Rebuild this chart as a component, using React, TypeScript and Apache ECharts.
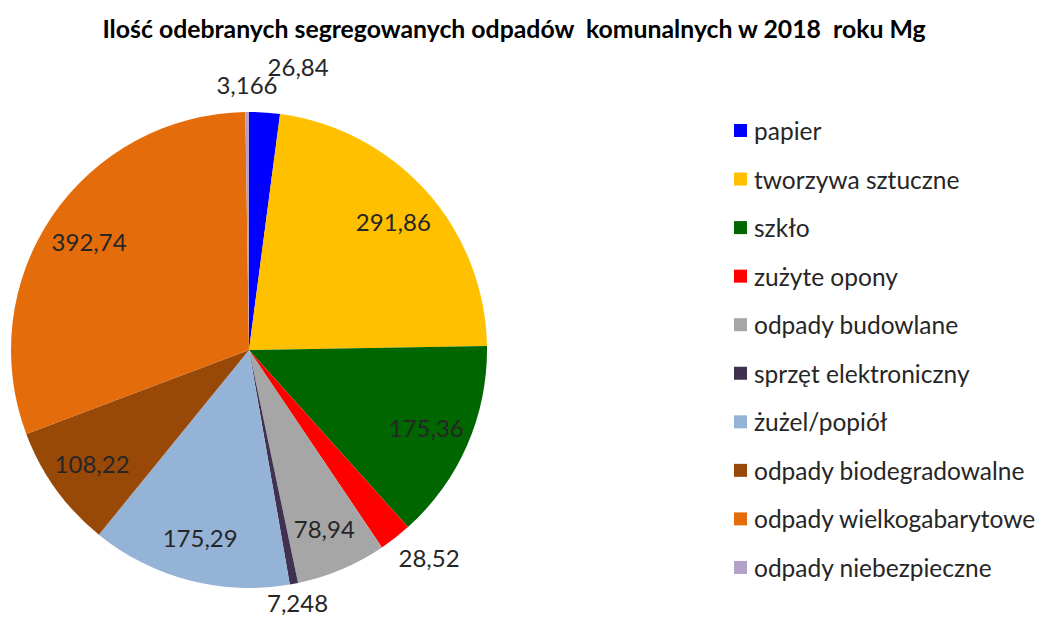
import React, { useEffect, useRef } from "react";
import * as echarts from "echarts";

const categories = [
  "papier",
  "tworzywa sztuczne",
  "szkło",
  "zużyte opony",
  "odpady budowlane",
  "sprzęt elektroniczny",
  "żużel/popiół",
  "odpady biodegradowalne",
  "odpady wielkogabarytowe",
  "odpady niebezpieczne",
];
const values = [26.84, 291.86, 175.36, 28.52, 78.94, 7.248, 175.29, 108.22, 392.74, 3.166];
const colors = [
  "#0000FF",
  "#FFC000",
  "#006600",
  "#FF0000",
  "#A6A6A6",
  "#403151",
  "#95B3D7",
  "#984807",
  "#E46C0A",
  "#B3A2C7",
];
const titleText = "Ilość odebranych segregowanych odpadów  komunalnych w 2018  roku Mg";

// label styling: outside label distance (px beyond the rim) per slice index; others inside
const outsideLabelLen: Record<number, number> = { 0: 46, 3: 32, 5: 19, 9: 28 };
const centeredOutside = [3, 5, 9];
const labelNudge: Record<number, { dx: number; dy: number }> = { 3: { dx: 14, dy: -5 } };

const FONT = "Lato, 'Noto Sans', sans-serif";
const fmt = (v: number) => String(v).replace(".", ",");

export default function App() {
  const ref = useRef<HTMLDivElement>(null);
  useEffect(() => {
    document.body.style.margin = "0";
    if (!ref.current) return;
    const chart = echarts.init(ref.current, null, { renderer: "svg" });
    const R = 238;
    const center = [249, 350];
    const mainData = categories.map((name, i) => ({
      name,
      value: values[i],
      itemStyle: { color: colors[i] },
    }));
    const labelData = categories.map((name, i) => {
      const out = outsideLabelLen[i];
      return {
        name,
        value: values[i],
        label:
          out != null
            ? { position: "outside" as const, distanceToLabelLine: 0 }
            : { position: "inside" as const },
        labelLine: { show: false, length: out != null ? out : 10, length2: 0 },
      };
    });
    chart.setOption({
      animation: false,
      backgroundColor: "#ffffff",
      title: {
        text: titleText,
        left: 514,
        textAlign: "center",
        top: 16,
        padding: 0,
        textStyle: {
          fontFamily: FONT,
          fontSize: 24.8,
          lineHeight: 24,
          fontWeight: "bold",
          color: "#000000",
        },
      },
      legend: {
        orient: "vertical",
        left: 734,
        top: 118,
        padding: 0,
        itemWidth: 13,
        itemHeight: 13,
        itemGap: 23.55,
        icon: "rect",
        data: categories,
        textStyle: {
          fontFamily: FONT,
          fontSize: 24.5,
          lineHeight: 24,
          color: "#262626",
          padding: [0, 0, 0, 2],
        },
      },
      series: [
        {
          type: "pie",
          center,
          radius: [0, R],
          startAngle: 90,
          clockwise: true,
          label: { show: false },
          labelLine: { show: false },
          itemStyle: { borderWidth: 0 },
          emphasis: { disabled: true },
          data: mainData,
        },
        {
          type: "pie",
          center,
          radius: [R * 0.6, R],
          startAngle: 90,
          clockwise: true,
          silent: true,
          avoidLabelOverlap: false,
          itemStyle: { color: "rgba(0,0,0,0)", borderWidth: 0 },
          emphasis: { disabled: true },
          label: {
            show: true,
            fontFamily: FONT,
            fontSize: 24,
            color: "#262626",
            formatter: (p: any) => fmt(p.value),
          },
          labelLayout: (p: any) => {
            const o: any = {};
            if (centeredOutside.includes(p.dataIndex)) o.align = "center";
            const n = labelNudge[p.dataIndex];
            if (n) {
              o.dx = n.dx;
              o.dy = n.dy;
            }
            return o;
          },
          data: labelData,
        },
      ],
    });
    return () => chart.dispose();
  }, []);
  return <div ref={ref} style={{ width: 1043, height: 617 }} />;
}
